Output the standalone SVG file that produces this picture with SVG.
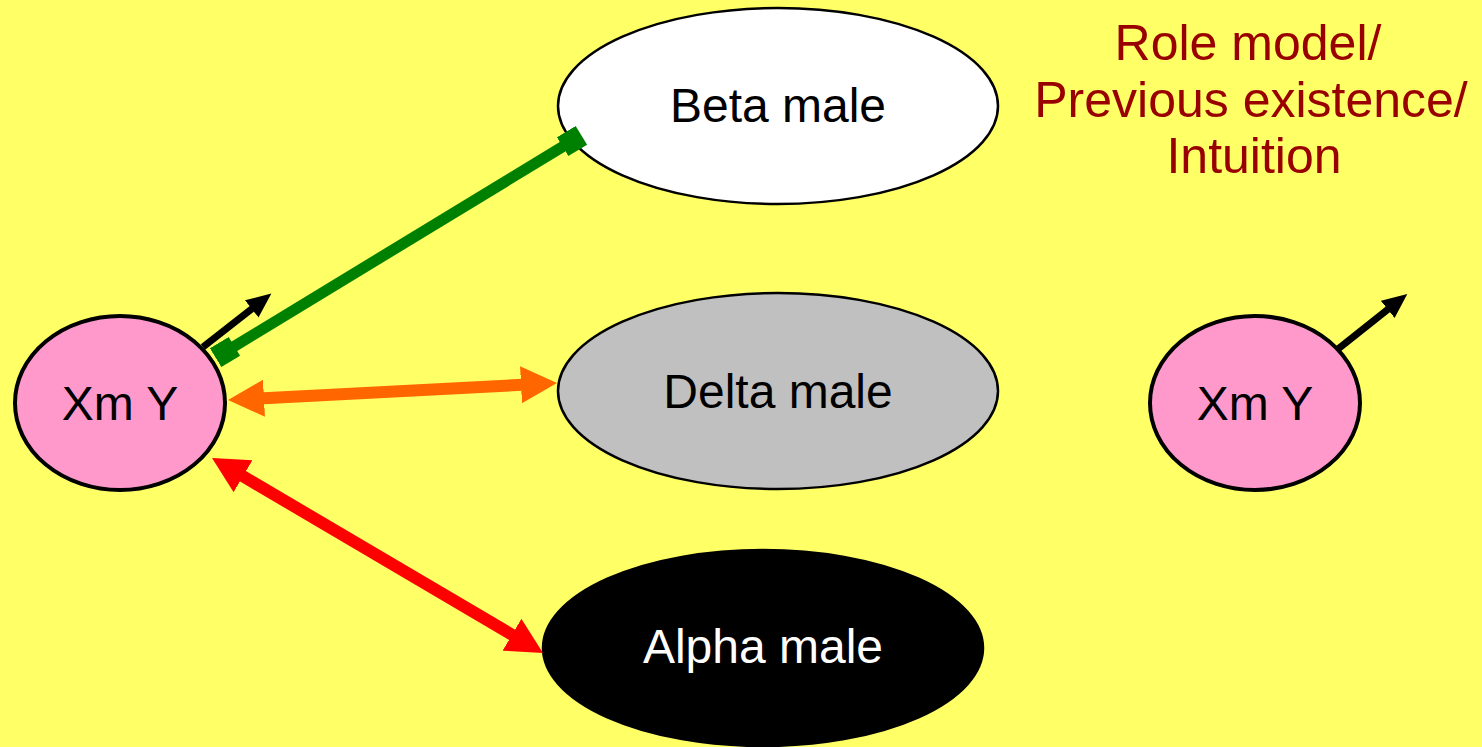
<svg xmlns="http://www.w3.org/2000/svg" width="1482" height="747" viewBox="0 0 1482 747">
<style>
.lbl{font-family:"Liberation Sans",Arial,sans-serif;font-size:48px;text-anchor:middle}
.red{font-family:"Liberation Sans",Arial,sans-serif;font-size:50px;text-anchor:middle;fill:#990000}
.node{stroke:#000}
</style>
<defs>
<marker id="headO" markerUnits="userSpaceOnUse" markerWidth="38" markerHeight="38" refX="10" refY="18.5" orient="auto-start-reverse" viewBox="0 0 38 38">
<path d="M0,0 L36,18.5 L0,37 z" fill="#FF6600"/>
</marker>
<marker id="headR" markerUnits="userSpaceOnUse" markerWidth="38" markerHeight="38" refX="10" refY="18.5" orient="auto-start-reverse" viewBox="0 0 38 38">
<path d="M0,0 L36,18.5 L0,37 z" fill="#FF0000"/>
</marker>
<marker id="headK" markerUnits="userSpaceOnUse" markerWidth="26" markerHeight="23" refX="8" refY="11" orient="auto" viewBox="0 0 26 23">
<path d="M0,0 L25,11 L0,22 z" fill="#000"/>
</marker>
<marker id="sqG" markerUnits="userSpaceOnUse" markerWidth="23" markerHeight="23" refX="11" refY="11" orient="auto" viewBox="0 0 23 23">
<rect x="0" y="0" width="22" height="22" fill="#008000"/>
</marker>
</defs>
<rect width="1482" height="747" fill="#FFFF66"/>
<g id="beta">
<ellipse class="node" cx="778" cy="106" rx="220" ry="98" fill="#FFFFFF" stroke-width="2.5"/>
<text class="lbl" x="778" y="122">Beta male</text>
</g>
<g id="delta">
<ellipse class="node" cx="778" cy="391" rx="220" ry="98" fill="#C0C0C0" stroke-width="2.5"/>
<text class="lbl" x="778" y="408">Delta male</text>
</g>
<g id="alpha">
<ellipse class="node" cx="763" cy="648" rx="220" ry="98" fill="#000000" stroke-width="2.5"/>
<text class="lbl" x="763" y="663" fill="#FFFFFF">Alpha male</text>
</g>
<g id="xmy-left">
<ellipse class="node" cx="120" cy="403" rx="105" ry="87" fill="#FF99CC" stroke-width="4"/>
<text class="lbl" x="120" y="420">Xm Y</text>
</g>
<g id="xmy-right">
<ellipse class="node" cx="1255" cy="403" rx="105" ry="87" fill="#FF99CC" stroke-width="4"/>
<text class="lbl" x="1255" y="420">Xm Y</text>
</g>
<g id="note">
<text class="red" x="1248" y="60">Role model/</text>
<text class="red" x="1251" y="117">Previous existence/</text>
<text class="red" x="1254" y="173">Intuition</text>
</g>
<g id="connectors" fill="none">
<line x1="203" y1="347" x2="258" y2="304" stroke="#000" stroke-width="7" marker-end="url(#headK)"/>
<line x1="1338" y1="349" x2="1394" y2="304.5" stroke="#000" stroke-width="7" marker-end="url(#headK)"/>
<line x1="225" y1="352" x2="572" y2="141" stroke="#008000" stroke-width="11" marker-start="url(#sqG)" marker-end="url(#sqG)"/>
<line x1="254" y1="398.7" x2="531" y2="384.3" stroke="#FF6600" stroke-width="12" marker-start="url(#headO)" marker-end="url(#headO)"/>
<line x1="234.4" y1="471.2" x2="520.6" y2="639.8" stroke="#FF0000" stroke-width="12" marker-start="url(#headR)" marker-end="url(#headR)"/>
</g>
</svg>
